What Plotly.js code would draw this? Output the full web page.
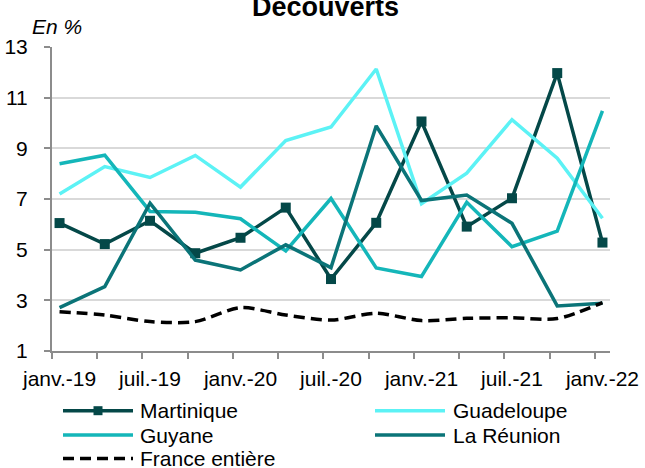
<!DOCTYPE html>
<html>
<head>
<meta charset="utf-8">
<script src="https://cdn.plot.ly/plotly-3.0.1.min.js"></script>
<style>html,body{margin:0;padding:0;background:#fff;}#chart{width:645px;height:468px;}</style>
</head>
<body>
<div id="chart"></div>
<script>
// Quarterly periods
const quarters = ['janv.-19','avr.-19','juil.-19','oct.-19','janv.-20','avr.-20','juil.-20','oct.-20','janv.-21','avr.-21','juil.-21','oct.-21','janv.-22'];
// Series values (%)
const martinique = [6.05,5.22,6.14,4.86,5.47,6.66,3.84,6.06,10.06,5.91,7.03,11.97,5.28];
const guadeloupe = [7.20,8.28,7.85,8.72,7.47,9.31,9.84,12.13,6.81,8.02,10.13,8.61,6.24];
const guyane     = [8.39,8.73,6.51,6.48,6.22,4.95,7.02,4.28,3.94,6.87,5.12,5.73,10.48];
const reunion    = [2.71,3.54,6.84,4.59,4.20,5.19,4.29,9.89,6.94,7.16,6.04,2.78,2.88];
const france     = [2.55,2.42,2.16,2.16,2.71,2.42,2.22,2.49,2.20,2.29,2.31,2.28,2.91];
const seriesNames = ['Martinique','Guadeloupe','Guyane','La Réunion','France entière'];
const yTicks = [1,3,5,7,9,11,13];

const FONT = 'Liberation Sans, Arial, sans-serif';
const C = {mart:'#044848', guad:'#5cf2f5', guy:'#14b6b9', reu:'#0b7478', fr:'#000000'};
const xIdx = quarters.map((_, i) => i);
const DASH = '11px,6px';

const traces = [
  {x:xIdx, y:martinique, name:seriesNames[0], mode:'lines+markers', line:{color:C.mart, width:3.5}, marker:{symbol:'square', size:10, color:C.mart}},
  {x:xIdx, y:guadeloupe, name:seriesNames[1], mode:'lines', line:{color:C.guad, width:3.5}},
  {x:xIdx, y:guyane, name:seriesNames[2], mode:'lines', line:{color:C.guy, width:3.5}},
  {x:xIdx, y:reunion, name:seriesNames[3], mode:'lines', line:{color:C.reu, width:3.5}},
  {x:xIdx, y:france, name:seriesNames[4], mode:'lines', line:{color:C.fr, width:3.5, dash:DASH, shape:'spline', smoothing:0.8}}
];

// plot area in px
const L = 52, R = 610, T = 47, B = 351;
const px2x = p => (p - L) / (R - L);
const py2y = p => (B - p) / (B - T);

const legendItems = [
  {name:seriesNames[0], color:C.mart, col:0, row:0, marker:true},
  {name:seriesNames[1], color:C.guad, col:1, row:0},
  {name:seriesNames[2], color:C.guy, col:0, row:1},
  {name:seriesNames[3], color:C.reu, col:1, row:1},
  {name:seriesNames[4], color:C.fr, col:0, row:2, dash:true}
];
const colX = [[63,133,139],[375,445,452]];
const rowY = [410.7, 435, 458.5];
const shapes = [], annotations = [];
legendItems.forEach(it => {
  const [x0,x1,xt] = colX[it.col];
  const y = py2y(rowY[it.row]);
  shapes.push({type:'line', xref:'paper', yref:'paper', x0:px2x(x0), x1:px2x(x1), y0:y, y1:y,
    line:{color:it.color, width:3.5, dash: it.dash ? DASH : 'solid'}});
  if (it.marker) {
    const cx = (x0 + x1) / 2, cy = rowY[it.row];
    shapes.push({type:'rect', xref:'paper', yref:'paper', x0:px2x(cx-4.5), x1:px2x(cx+4.5), y0:py2y(cy+4.5), y1:py2y(cy-4.5),
      fillcolor:it.color, line:{width:0}});
  }
  annotations.push({xref:'paper', yref:'paper', x:px2x(xt), y:y, xanchor:'left', yanchor:'middle', showarrow:false,
    text:it.name, font:{family:FONT, size:21, color:'#000'}, borderpad:0});
});
annotations.push({xref:'paper', yref:'paper', x:px2x(31), y:py2y(26), xanchor:'left', yanchor:'middle', showarrow:false,
  text:'<i>En %</i>', font:{family:FONT, size:21, color:'#000'}, borderpad:0});

const layout = {
  width:645, height:468,
  margin:{l:L, r:645-R, t:T, b:468-B},
  paper_bgcolor:'#fff', plot_bgcolor:'#fff',
  showlegend:false,
  title:{text:'<b>Découverts</b>', font:{family:FONT, size:27, color:'#000'}, xref:'paper', x:px2x(325.5), xanchor:'center', yref:'container', y:1-7/468, yanchor:'middle'},
  font:{family:FONT, size:21, color:'#000'},
  xaxis:{
    range:[-1/6, 12+1/6], tickmode:'array', tickvals:xIdx.filter(i => i % 2 === 0), ticktext:quarters.filter((_, i) => i % 2 === 0),
    ticks:'', showgrid:false, zeroline:false, showline:true, linecolor:'#8c8c8c', linewidth:2,
    tickfont:{family:FONT, size:21, color:'#000'}, ticklabelstandoff:8,
    minor:{tickmode:'array', tickvals:xIdx.map(i => i - 1/6), ticks:'outside', ticklen:6, tickcolor:'#8c8c8c', tickwidth:2, showgrid:false}
  },
  yaxis:{
    range:[1,13], tickmode:'array', tickvals:yTicks, ticks:'outside', ticklen:6, tickcolor:'#8c8c8c', tickwidth:2,
    showgrid:true, gridcolor:'#d9d9d9', gridwidth:2, zeroline:false, showline:true, linecolor:'#8c8c8c', linewidth:2,
    tickfont:{family:FONT, size:21, color:'#000'}, ticklabelstandoff:12
  },
  shapes:shapes, annotations:annotations
};
Plotly.newPlot('chart', traces, layout, {staticPlot:true, displayModeBar:false});
</script>
</body>
</html>
